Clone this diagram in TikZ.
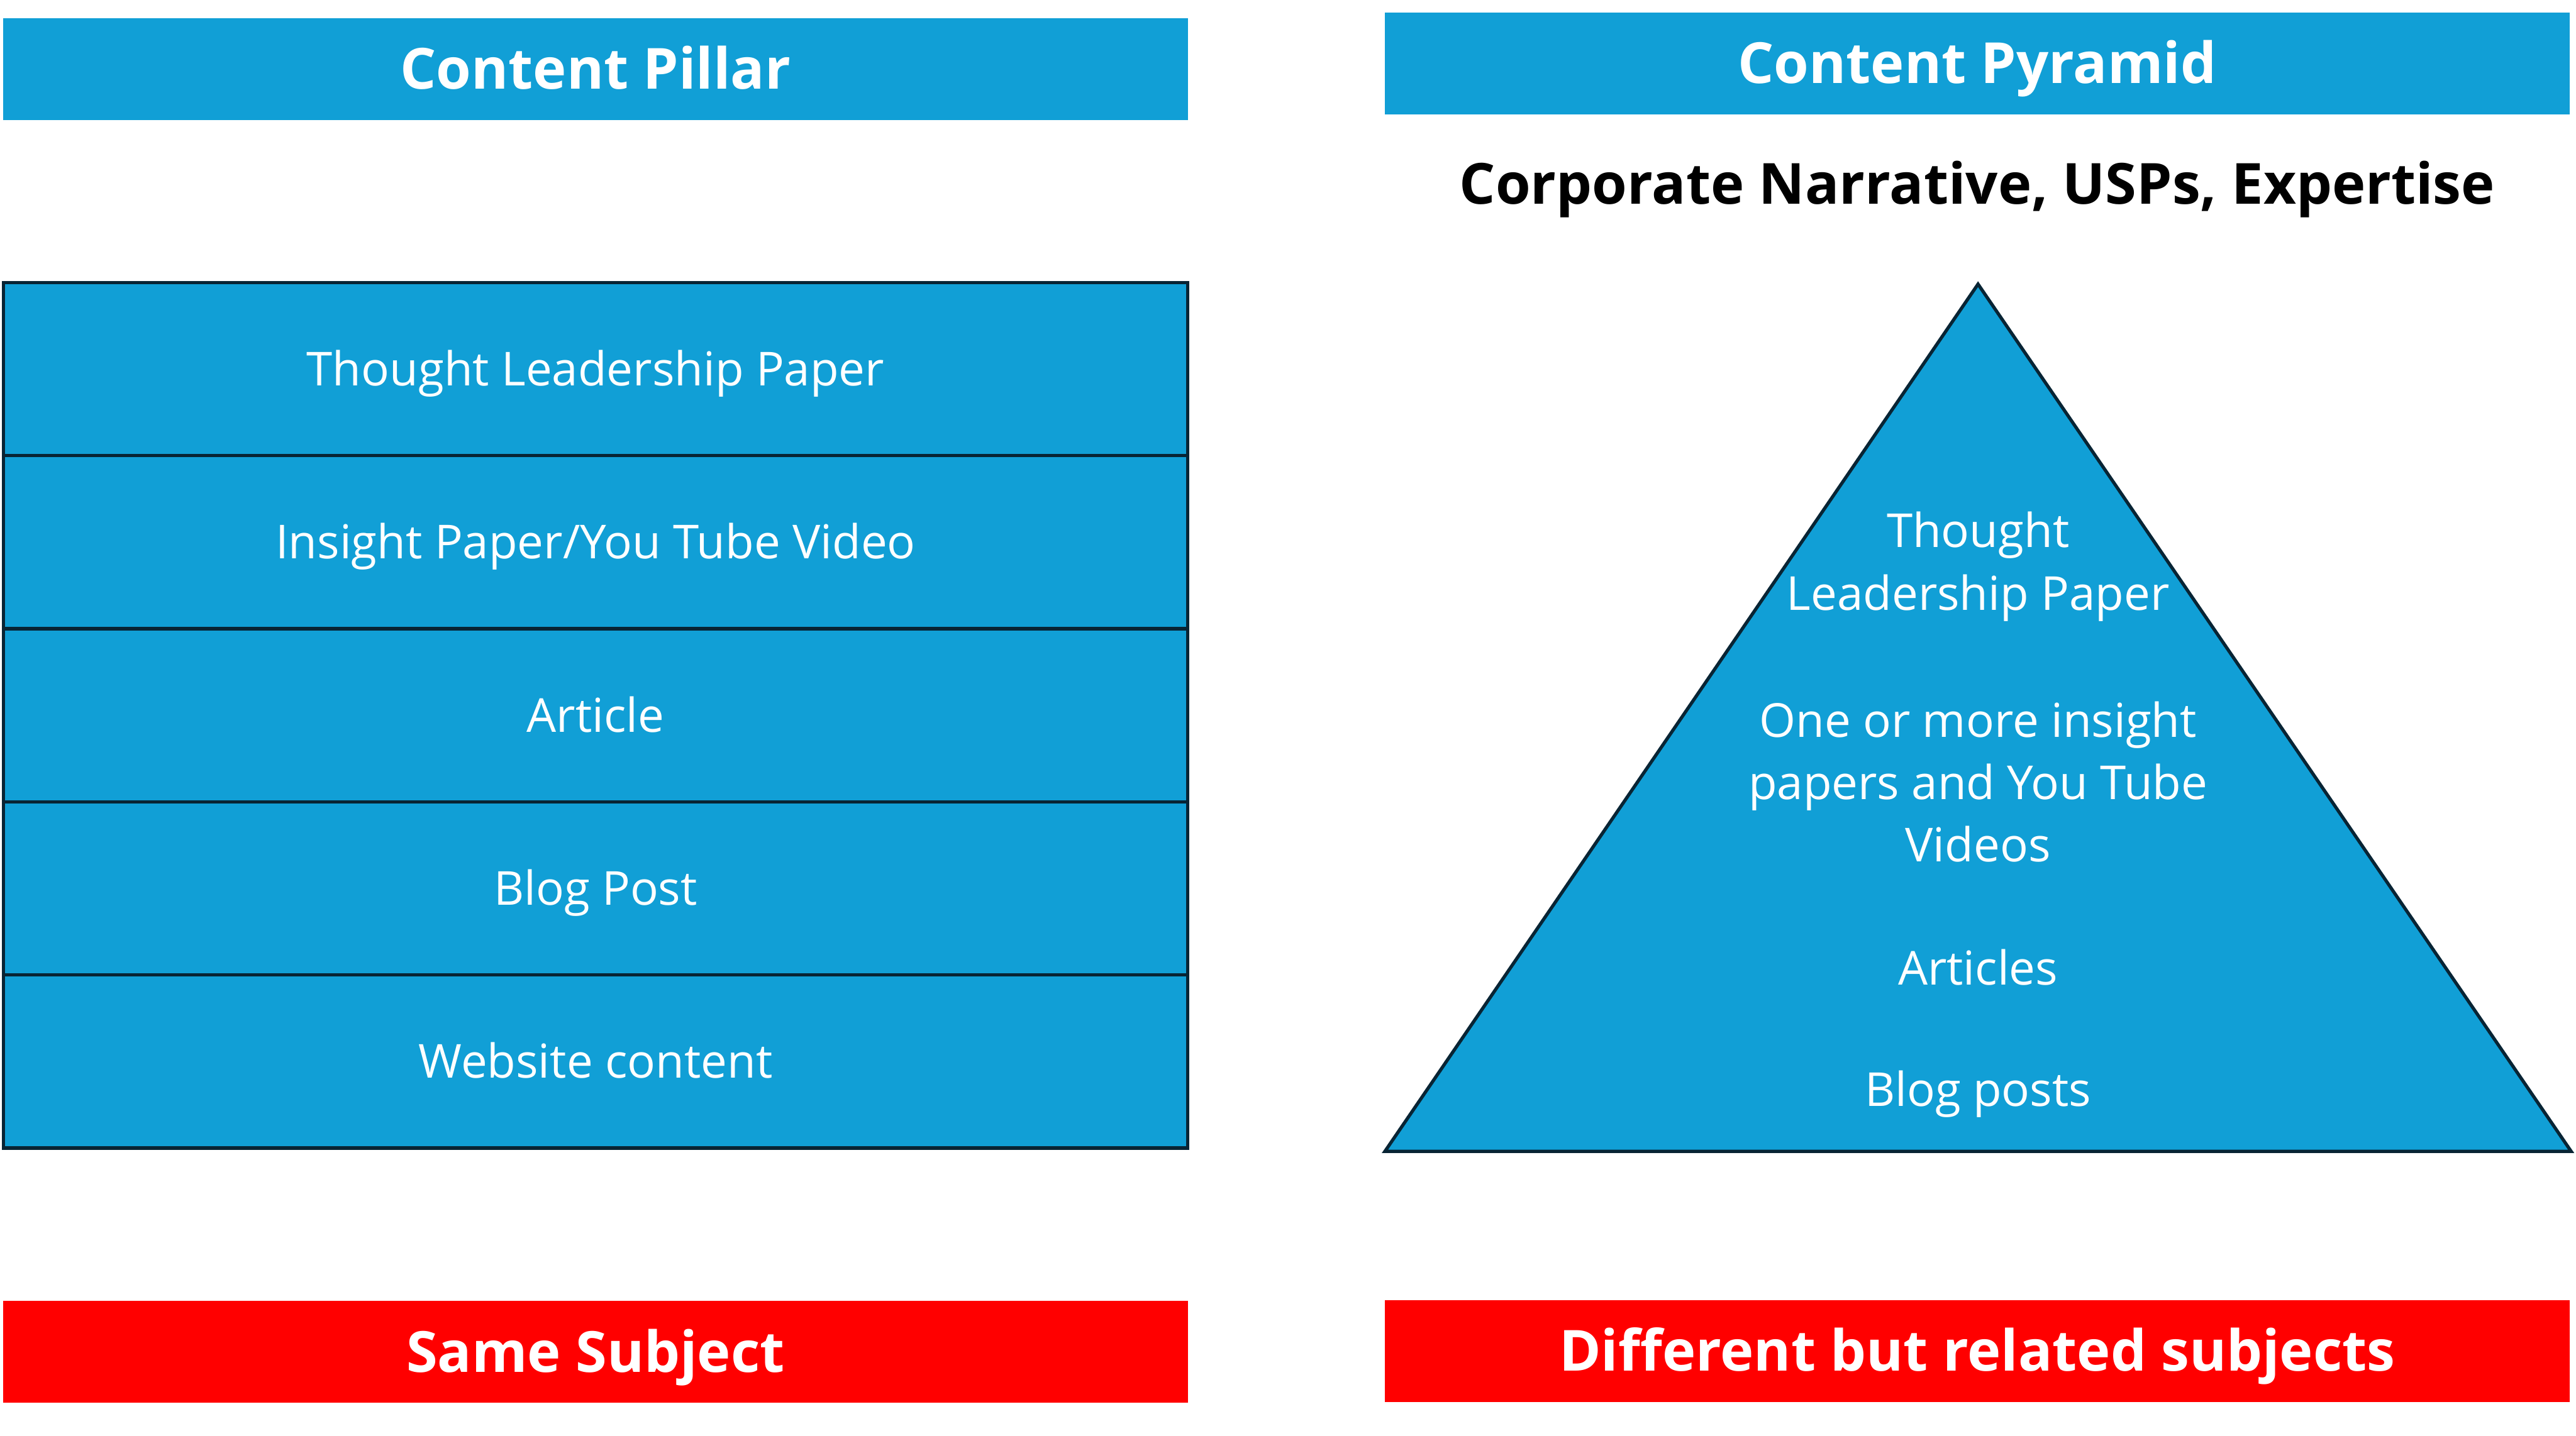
\documentclass[tikz,border=0pt]{standalone}
\usepackage{fontspec}
\setmainfont{Open Sans}
\usetikzlibrary{positioning}
\definecolor{pillarblue}{RGB}{17,159,214}
\definecolor{edgenavy}{RGB}{8,36,52}
\definecolor{subjectred}{RGB}{255,0,0}

\begin{document}
\begin{tikzpicture}[x=1pt,y=-1pt,
  titlebar/.style={fill=pillarblue,minimum width=721pt,minimum height=62pt,
    inner sep=0pt,outer sep=0pt,text=white,text height=24.6pt,text depth=0pt,
    font=\bfseries\fontsize{34.5}{40}\selectfont},
  subjectbar/.style={titlebar,fill=subjectred},
  layerbox/.style={draw=edgenavy,line width=2pt,fill=pillarblue,minimum width=721pt,
    minimum height=105.4pt,inner sep=0pt,outer sep=0pt,text=white,
    text height=20.3pt,text depth=0pt,font=\fontsize{28.5}{34}\selectfont},
  tritext/.style={text=white,font=\fontsize{28.5}{38}\selectfont,align=center}]
\useasboundingbox (0,0) rectangle (1568,874);

% headings
\node[titlebar] (pillarTitle)  at (362.5,42)  {Content Pillar};
\node[titlebar] (pyramidTitle) at (1203.5,38.5) {Content Pyramid};
\node[font=\bfseries\fontsize{34.5}{40}\selectfont,text height=24.6pt,text depth=0pt]
  (narrative) at (1203.5,112) {Corporate Narrative, USPs, Expertise};

% the pillar, top to bottom
\node[layerbox] (rowOne) at (362.5,224.7) {Thought Leadership Paper};
\node[layerbox,below=0pt of rowOne]   (rowTwo)   {Insight Paper/You Tube Video};
\node[layerbox,below=0pt of rowTwo]   (rowThree) {Article};
\node[layerbox,below=0pt of rowThree] (rowFour)  {Blog Post};
\node[layerbox,below=0pt of rowFour]  (rowFive)  {Website content};

% the pyramid
\coordinate (Apex)      at (1204,173);
\coordinate (BaseLeft)  at (843,701);
\coordinate (BaseRight) at (1565,701);
\draw[draw=edgenavy,line width=2pt,fill=pillarblue,line join=miter]
  (Apex) -- (BaseRight) -- (BaseLeft) -- cycle;

\node[tritext] (triPaper)    at (1204,345) {Thought\\Leadership Paper};
\node[tritext] (triInsight)  at (1204,476) {One or more insight\\papers and You Tube\\Videos};
\node[tritext] (triArticles) at (1204,589) {Articles};
\node[tritext] (triBlog)     at (1204,666) {Blog posts};

% subjects
\node[subjectbar] (sameSubject) at (362.5,823)  {Same Subject};
\node[subjectbar] (diffSubject) at (1203.5,822.5) {Different but related subjects};
\end{tikzpicture}
\end{document}
